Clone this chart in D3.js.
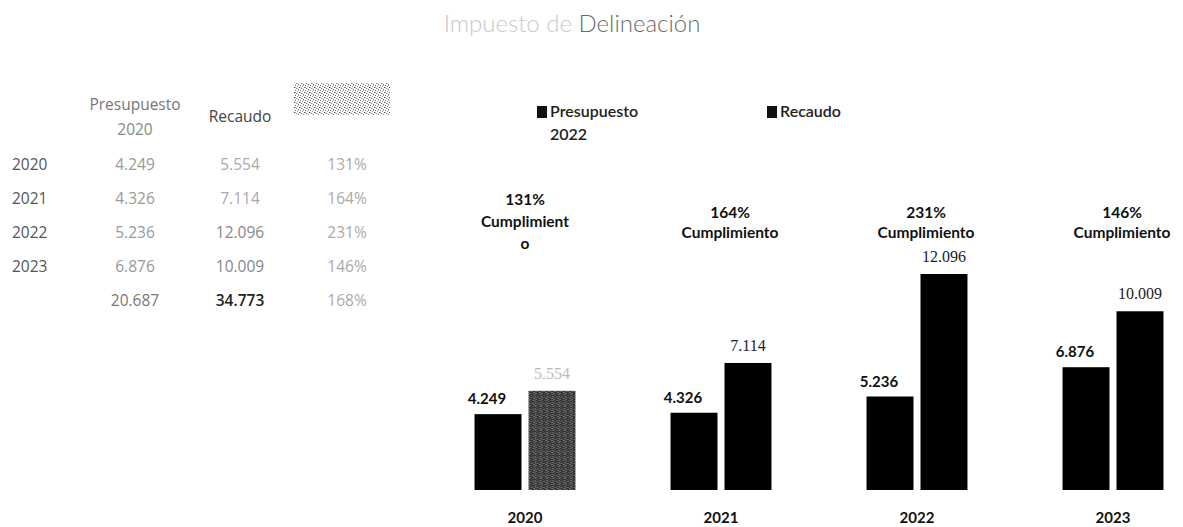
<!DOCTYPE html>
<html>
<head>
<meta charset="utf-8">
<script src="https://cdn.jsdelivr.net/npm/d3@7"></script>
<style>
  html, body { margin: 0; padding: 0; background: #fff; }
  svg { display: block; }
</style>
</head>
<body>
<svg id="chart" width="1183" height="527"></svg>
<script>
// ---- data ----
const years = ["2020", "2021", "2022", "2023"];
const series = ["Presupuesto", "Recaudo"];
const presupuesto = [4249, 4326, 5236, 6876];
const recaudo = [5554, 7114, 12096, 10009];
const titleFaint = "Impuesto de ";
const titleMain = "Delineación";
const tableHeaders = [["Presupuesto", "2020"], ["Recaudo"], [""]];
const legendLabels = [["Presupuesto", "2022"], ["Recaudo"]];
const cumplimientoWord = "Cumplimiento";

// ---- helpers ----
const loc = d3.formatLocale({ decimal: ",", thousands: ".", grouping: [3], currency: ["$", ""] });
const fmt = loc.format(",");
const pct = (r, p) => Math.round(r / p * 100) + "%";

const svg = d3.select("#chart");

// defs: noisy gray pattern for scanned 2020 bar and header blob
const defs = svg.append("defs");
const pat = defs.append("pattern").attr("id", "noise").attr("width", 6).attr("height", 6).attr("patternUnits", "userSpaceOnUse");
pat.append("rect").attr("width", 6).attr("height", 6).attr("fill", "#333");
[[0,0,"#999"],[3,1,"#888"],[1,3,"#aaa"],[4,4,"#777"],[5,2,"#bbb"],[2,5,"#666"],[1,1,"#777"],[4,0,"#555"],[0,4,"#888"]].forEach(([x,y,c]) =>
  pat.append("rect").attr("x", x).attr("y", y).attr("width", 1).attr("height", 1).attr("fill", c));
const pat2 = defs.append("pattern").attr("id", "blob").attr("width", 5).attr("height", 5).attr("patternUnits", "userSpaceOnUse");
pat2.append("rect").attr("width", 5).attr("height", 5).attr("fill", "#fff");
[[0,0,"#666"],[2,1,"#999"],[4,2,"#555"],[1,3,"#888"],[3,4,"#777"],[3,0,"#bbb"],[0,2,"#aaa"],[2,3,"#ccc"]].forEach(([x,y,c]) =>
  pat2.append("rect").attr("x", x).attr("y", y).attr("width", 1).attr("height", 1).attr("fill", c));

// ---- title ----
const title = svg.append("text").attr("x", 572).attr("y", 32).attr("text-anchor", "middle")
  .attr("font-family", "Lato, 'Open Sans', sans-serif").attr("font-size", 24).attr("font-weight", 300);
title.append("tspan").attr("fill", "#c8c8c8").text(titleFaint);
title.append("tspan").attr("fill", "#6a6a6a").text(titleMain);

// ---- table ----
const tFont = "'Open Sans', Lato, sans-serif";
const colX = [135, 240, 347];
const rowY = [170, 204, 238, 272];
const totalY = 306;
const tbl = svg.append("g").attr("font-family", tFont).attr("font-size", 15.5);

// headers
tbl.append("text").attr("x", colX[0]).attr("y", 110).attr("text-anchor", "middle").attr("fill", "#777").text(tableHeaders[0][0]);
tbl.append("text").attr("x", colX[0]).attr("y", 135).attr("text-anchor", "middle").attr("fill", "#888").text(tableHeaders[0][1]);
tbl.append("text").attr("x", colX[1]).attr("y", 122).attr("text-anchor", "middle").attr("fill", "#444").text(tableHeaders[1][0]);
tbl.append("rect").attr("x", 294).attr("y", 83).attr("width", 96).attr("height", 32).attr("fill", "url(#blob)");

// rows
years.forEach((yr, i) => {
  tbl.append("text").attr("x", 12).attr("y", rowY[i]).attr("fill", "#555").text(yr);
  tbl.append("text").attr("x", colX[0]).attr("y", rowY[i]).attr("text-anchor", "middle").attr("fill", "#999").text(fmt(presupuesto[i]));
  tbl.append("text").attr("x", colX[1]).attr("y", rowY[i]).attr("text-anchor", "middle").attr("fill", i < 2 ? "#aaa" : "#888").text(fmt(recaudo[i]));
  tbl.append("text").attr("x", colX[2]).attr("y", rowY[i]).attr("text-anchor", "middle").attr("fill", "#aaa").text(pct(recaudo[i], presupuesto[i]));
});
const sumP = d3.sum(presupuesto), sumR = d3.sum(recaudo);
tbl.append("text").attr("x", colX[0]).attr("y", totalY).attr("text-anchor", "middle").attr("fill", "#777").text(fmt(sumP));
tbl.append("text").attr("x", colX[1]).attr("y", totalY).attr("text-anchor", "middle").attr("fill", "#222").attr("font-weight", 600).text(fmt(sumR));
tbl.append("text").attr("x", colX[2]).attr("y", totalY).attr("text-anchor", "middle").attr("fill", "#aaa").text(pct(sumR, sumP));

// ---- chart ----
const cFont = "Lato, 'Open Sans', sans-serif";
const x0 = d3.scaleBand().domain(years).range([427, 1211]).paddingInner(0.485).paddingOuter(0.2425);
const x1 = d3.scaleBand().domain(series).range([0, x0.bandwidth()]).paddingInner(0.13);
const y = d3.scaleLinear().domain([0, d3.max(recaudo)]).range([490, 274]);

const data = years.map((yr, i) => ({ year: yr, i, values: [
  { key: "Presupuesto", value: presupuesto[i] },
  { key: "Recaudo", value: recaudo[i] }
]}));

const groups = svg.append("g").selectAll("g").data(data).join("g")
  .attr("transform", d => `translate(${x0(d.year)},0)`);

groups.selectAll("rect").data(d => d.values.map(v => ({ ...v, year: d.year }))).join("rect")
  .attr("x", d => x1(d.key))
  .attr("y", d => y(d.value))
  .attr("width", x1.bandwidth())
  .attr("height", d => y(0) - y(d.value))
  .attr("fill", d => (d.year === "2020" && d.key === "Recaudo") ? "url(#noise)" : "#000");

// value labels
groups.append("text")
  .attr("x", x1("Presupuesto") + x1.bandwidth() / 2 - 11)
  .attr("y", d => y(d.values[0].value) - 10)
  .attr("text-anchor", "middle").attr("font-family", cFont).attr("font-weight", 700).attr("font-size", 15)
  .attr("fill", "#111").text(d => fmt(d.values[0].value));
groups.append("text")
  .attr("x", x1("Recaudo") + x1.bandwidth() / 2)
  .attr("y", d => y(d.values[1].value) - 12)
  .attr("text-anchor", "middle").attr("font-family", "'Liberation Serif', 'DejaVu Serif', serif").attr("font-size", 16)
  .attr("fill", d => d.year === "2020" ? "#bbb" : "#222").text(d => fmt(d.values[1].value));

// cumplimiento annotations
groups.each(function (d) {
  const g = d3.select(this);
  const cx = x0.bandwidth() / 2 + (d.i === 0 ? 0 : 9);
  const lines = d.i === 0
    ? [pct(recaudo[d.i], presupuesto[d.i]), cumplimientoWord.slice(0, -1), cumplimientoWord.slice(-1)]
    : [pct(recaudo[d.i], presupuesto[d.i]), cumplimientoWord];
  const baseY = d.i === 0 ? [205, 227, 249] : [218, 238];
  lines.forEach((t, k) => {
    g.append("text").attr("x", cx).attr("y", baseY[k]).attr("text-anchor", "middle")
      .attr("font-family", cFont).attr("font-weight", 700).attr("font-size", 15.5).attr("fill", "#111").text(t);
  });
});

// x axis (year labels)
const xAxis = svg.append("g").attr("transform", "translate(0,508)")
  .call(d3.axisBottom(x0).tickSize(0).tickPadding(0));
xAxis.select(".domain").remove();
xAxis.selectAll("text").attr("font-family", cFont).attr("font-weight", 700).attr("font-size", 15).attr("fill", "#111").attr("dy", "1em");

// legend
const legend = svg.append("g").attr("font-family", cFont).attr("font-size", 16).attr("font-weight", 600);
const legX = [537, 767];
series.forEach((s, k) => {
  legend.append("rect").attr("x", legX[k]).attr("y", 106).attr("width", 10).attr("height", 12).attr("fill", "#111");
  legendLabels[k].forEach((t, j) => {
    legend.append("text").attr("x", legX[k] + 13).attr("y", 117 + j * 23).attr("fill", "#222").text(t);
  });
});
</script>
</body>
</html>
